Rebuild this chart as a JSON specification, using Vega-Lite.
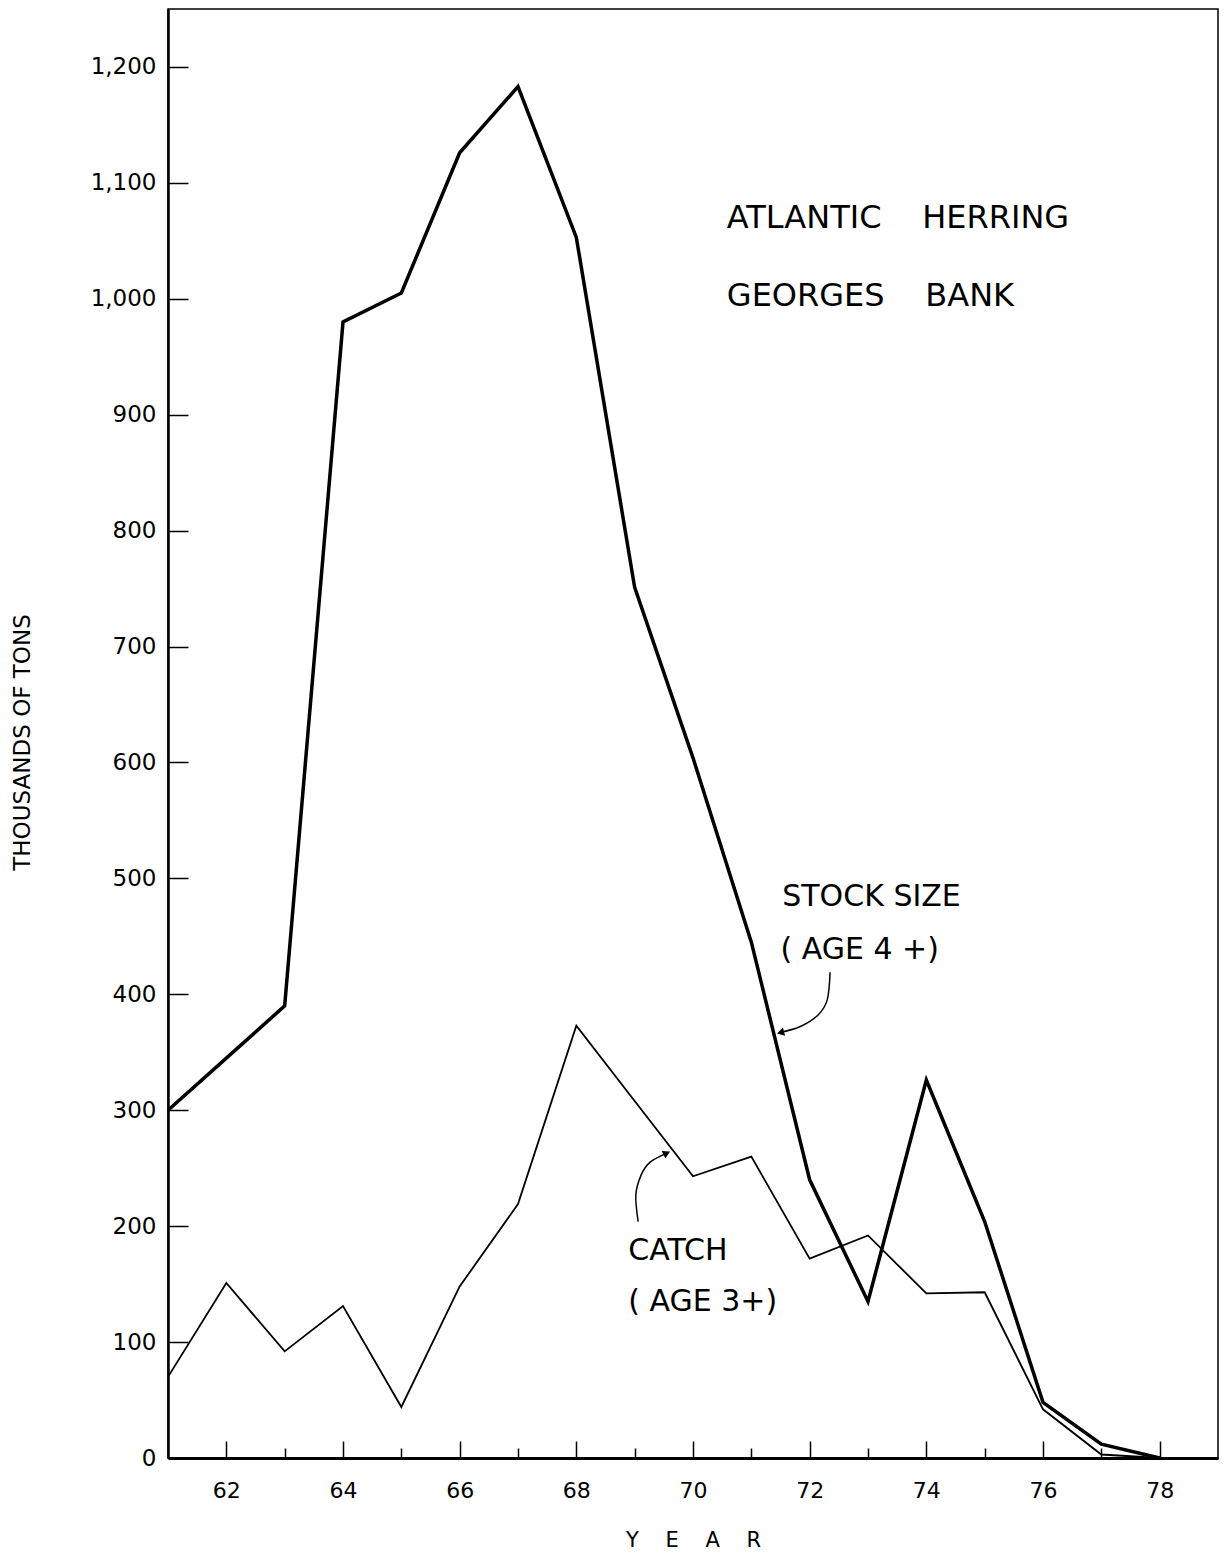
{
  "$schema": "https://vega.github.io/schema/vega-lite/v6.json",
  "width": 1050,
  "height": 1449,
  "autosize": {"type": "none"},
  "padding": {"left": 168, "top": 9, "right": 12, "bottom": 95},
  "background": "white",
  "config": {
    "view": {"stroke": "black", "strokeWidth": 1.5},
    "font": "DejaVu Sans",
    "axis": {"grid": false, "domainColor": "black", "tickColor": "black", "labelColor": "black", "titleColor": "black", "labelFont": "DejaVu Sans", "titleFont": "DejaVu Sans", "titleFontWeight": "normal"}
  },
  "datasets": {
    "series": [
      {"year": 61, "value": 300, "series": "Stock"},
      {"year": 62, "value": 345, "series": "Stock"},
      {"year": 63, "value": 390, "series": "Stock"},
      {"year": 64, "value": 980, "series": "Stock"},
      {"year": 65, "value": 1005, "series": "Stock"},
      {"year": 66, "value": 1126, "series": "Stock"},
      {"year": 67, "value": 1183, "series": "Stock"},
      {"year": 68, "value": 1053, "series": "Stock"},
      {"year": 69, "value": 751, "series": "Stock"},
      {"year": 70, "value": 604, "series": "Stock"},
      {"year": 71, "value": 445, "series": "Stock"},
      {"year": 72, "value": 240, "series": "Stock"},
      {"year": 73, "value": 135, "series": "Stock"},
      {"year": 74, "value": 326, "series": "Stock"},
      {"year": 75, "value": 204, "series": "Stock"},
      {"year": 76, "value": 48, "series": "Stock"},
      {"year": 77, "value": 12, "series": "Stock"},
      {"year": 78, "value": 0, "series": "Stock"},
      {"year": 61, "value": 70, "series": "Catch"},
      {"year": 62, "value": 151, "series": "Catch"},
      {"year": 63, "value": 92, "series": "Catch"},
      {"year": 64, "value": 131, "series": "Catch"},
      {"year": 65, "value": 44, "series": "Catch"},
      {"year": 66, "value": 148, "series": "Catch"},
      {"year": 67, "value": 219, "series": "Catch"},
      {"year": 68, "value": 373, "series": "Catch"},
      {"year": 69, "value": 308, "series": "Catch"},
      {"year": 70, "value": 243, "series": "Catch"},
      {"year": 71, "value": 260, "series": "Catch"},
      {"year": 72, "value": 172, "series": "Catch"},
      {"year": 73, "value": 192, "series": "Catch"},
      {"year": 74, "value": 142, "series": "Catch"},
      {"year": 75, "value": 143, "series": "Catch"},
      {"year": 76, "value": 42, "series": "Catch"},
      {"year": 77, "value": 3, "series": "Catch"},
      {"year": 78, "value": 0, "series": "Catch"}
    ],
    "arrows": [
      {"arrow": "stock", "i": 0, "year": 72.35, "value": 419},
      {"arrow": "stock", "i": 1, "year": 72.3, "value": 395},
      {"arrow": "stock", "i": 2, "year": 72.14, "value": 382},
      {"arrow": "stock", "i": 3, "year": 71.83, "value": 372},
      {"arrow": "stock", "i": 4, "year": 71.48, "value": 367},
      {"arrow": "catch", "i": 0, "year": 69.06, "value": 204},
      {"arrow": "catch", "i": 1, "year": 69.02, "value": 227},
      {"arrow": "catch", "i": 2, "year": 69.11, "value": 244},
      {"arrow": "catch", "i": 3, "year": 69.26, "value": 255},
      {"arrow": "catch", "i": 4, "year": 69.55, "value": 263}
    ],
    "heads": [
      {"arrow": "stock", "year": 71.5, "value": 367},
      {"arrow": "catch", "year": 69.55, "value": 263}
    ],
    "titles": [
      {"year": 70.58, "value": 1070, "text": "ATLANTIC \u00a0\u00a0\u00a0HERRING"},
      {"year": 70.58, "value": 1002, "text": "GEORGES \u00a0\u00a0\u00a0BANK"}
    ],
    "labels": [
      {"year": 71.53, "value": 484, "text": "STOCK SIZE"},
      {"year": 71.5, "value": 438, "text": "( AGE 4 +)"},
      {"year": 68.89, "value": 179, "text": "CATCH"},
      {"year": 68.89, "value": 135, "text": "( AGE 3+)"}
    ]
  },
  "resolve": {"axis": {"x": "independent", "y": "independent"}},
  "layer": [
    {
      "data": {"name": "series"},
      "mark": {"type": "line", "color": "black", "strokeJoin": "miter"},
      "encoding": {
        "x": {
          "field": "year", "type": "quantitative",
          "scale": {"domain": [61, 79], "nice": false, "zero": false},
          "axis": {
            "orient": "bottom",
            "values": [62, 64, 66, 68, 70, 72, 74, 76, 78],
            "ticks": false, "domainWidth": 3,
            "labelFontSize": 22, "labelPadding": 22, "labelBaseline": "top",
            "title": "Y \u00a0\u00a0\u00a0E \u00a0\u00a0\u00a0A \u00a0\u00a0\u00a0R", "titleFontSize": 21,
            "titleX": 525, "titleY": 82, "titleBaseline": "middle"
          }
        },
        "y": {
          "field": "value", "type": "quantitative",
          "scale": {"domain": [0, 1250], "nice": false},
          "axis": {
            "orient": "left",
            "values": [0, 100, 200, 300, 400, 500, 600, 700, 800, 900, 1000, 1100, 1200],
            "format": ",d",
            "ticks": false, "domainWidth": 2.5,
            "labelFontSize": 23, "labelPadding": 12,
            "title": "THOUSANDS OF TONS", "titleFontSize": 23,
            "titleX": -146, "titleY": 733, "titleBaseline": "middle"
          }
        },
        "detail": {"field": "series"},
        "strokeWidth": {"field": "series", "scale": {"domain": ["Stock", "Catch"], "range": [3.5, 1.8]}, "legend": null}
      }
    },
    {
      "data": {"name": "arrows"},
      "mark": {"type": "line", "color": "black", "strokeWidth": 1.5, "interpolate": "cardinal"},
      "encoding": {
        "x": {
          "field": "year", "type": "quantitative",
          "axis": {"orient": "top", "offset": -1449, "values": [62, 64, 66, 68, 70, 72, 74, 76, 78], "tickSize": 17, "tickWidth": 1.5, "labels": false, "domain": false, "title": null}
        },
        "y": {
          "field": "value", "type": "quantitative",
          "axis": {"orient": "right", "offset": -1050, "values": [100, 200, 300, 400, 500, 600, 700, 800, 900, 1000, 1100, 1200], "tickSize": 20, "tickWidth": 1.5, "labels": false, "domain": false, "title": null}
        },
        "detail": {"field": "arrow"},
        "order": {"field": "i"}
      }
    },
    {
      "data": {"name": "heads"},
      "mark": {"type": "point", "shape": "triangle-right", "filled": true, "color": "black", "size": 70, "opacity": 1},
      "encoding": {
        "x": {
          "field": "year", "type": "quantitative",
          "axis": {"orient": "top", "offset": -1449, "values": [63, 65, 67, 69, 71, 73, 75, 77], "tickSize": 10, "tickWidth": 1.5, "labels": false, "domain": false, "title": null}
        },
        "y": {"field": "value", "type": "quantitative", "axis": null},
        "angle": {"field": "arrow", "type": "nominal", "scale": {"domain": ["stock", "catch"], "range": [165, 333]}, "legend": null}
      }
    },
    {
      "data": {"name": "titles"},
      "mark": {"type": "text", "align": "left", "baseline": "middle", "fontSize": 32, "font": "DejaVu Sans", "color": "black"},
      "encoding": {
        "x": {"field": "year", "type": "quantitative", "axis": null},
        "y": {"field": "value", "type": "quantitative", "axis": null},
        "text": {"field": "text"}
      }
    },
    {
      "data": {"name": "labels"},
      "mark": {"type": "text", "align": "left", "baseline": "middle", "fontSize": 30, "font": "DejaVu Sans", "color": "black"},
      "encoding": {
        "x": {"field": "year", "type": "quantitative", "axis": null},
        "y": {"field": "value", "type": "quantitative", "axis": null},
        "text": {"field": "text"}
      }
    }
  ]
}
